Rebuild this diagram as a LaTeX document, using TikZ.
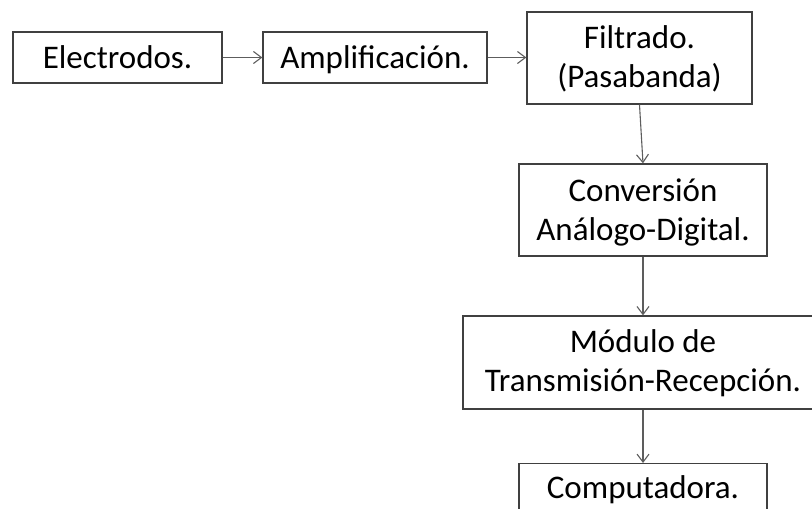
\documentclass[tikz,border=0pt]{standalone}
\usepackage{fontspec}
\setmainfont{Carlito}
\usetikzlibrary{arrows.meta}
\definecolor{edge}{HTML}{404040}
\tikzset{
  blk/.style={draw=edge, line width=1.3pt, fill=white, inner sep=0pt},
  txt/.style={anchor=base, inner sep=0pt, font=\fontsize{33pt}{39pt}\selectfont, text=black},
  conn/.style={draw=edge!85, line width=1.1pt, -{Straight Barb[length=8pt,width=12pt,line width=1.1pt]}}
}
\begin{document}
\begin{tikzpicture}[x=1pt,y=-1pt]
\useasboundingbox (0,0) rectangle (812,509);
\clip (0,0) rectangle (812,509);
\node[blk, minimum width=209pt, minimum height=51pt] (el) at (117.5,57.5) {};
\node[blk, minimum width=224pt, minimum height=51pt] (amp) at (375,57.5) {};
\node[blk, minimum width=225pt, minimum height=92pt] (fil) at (639.5,58) {};
\node[blk, minimum width=248pt, minimum height=92pt] (conv) at (643,210) {};
\node[blk, minimum width=360pt, minimum height=93pt] (mod) at (643,362.5) {};
\node[blk, minimum width=248pt, minimum height=51pt, anchor=north] (comp) at (643,463) {};
\node[txt] (t1) at (117.5,68) {Electrodos.};
\node[txt] (t2) at (375,68) {Amplificación.};
\node[txt] (t3a) at (639.5,48) {Filtrado.};
\node[txt] (t3b) at (639.5,87) {(Pasabanda)};
\node[txt] (t4a) at (643,201) {Conversión};
\node[txt] (t4b) at (643,240) {Análogo-Digital.};
\node[txt] (t5a) at (643,352) {Módulo de};
\node[txt] (t5b) at (643,391) {Transmisión-Recepción.};
\node[txt] (t6) at (643,498) {Computadora.};
\draw[conn] (el.east) -- (amp.west);
\draw[conn] (amp.east) -- (amp.east -| fil.west);
\draw[conn] (fil.south) -- (conv.north);
\draw[conn] (conv.south) -- (conv.south |- mod.north);
\draw[conn] (mod.south) -- (comp.north);
\end{tikzpicture}
\end{document}
